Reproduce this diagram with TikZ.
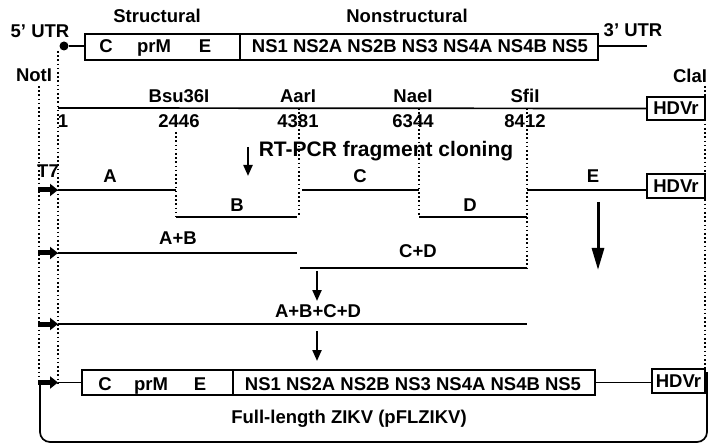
\documentclass[tikz,border=0pt]{standalone}
\usepackage{fontspec}
\setmainfont{Liberation Sans}
\usetikzlibrary{arrows.meta}
\begin{document}
\begin{tikzpicture}[x=1pt,y=-1pt,
  every node/.style={inner sep=0pt, outer sep=0pt},
  lbl/.style={anchor=base, font=\fontsize{18.5}{20}\selectfont\bfseries},
  biglbl/.style={anchor=base, font=\fontsize{21}{24}\selectfont\bfseries},
  gbox/.style={draw, line width=1.6pt, font=\fontsize{18.5}{20}\selectfont\bfseries},
  seq/.style={line width=1.7pt},
  dots/.style={line width=1.6pt, dash pattern=on 1.6pt off 2.6pt},
  t7/.style={line width=5pt, -{Triangle[length=8pt,width=12pt]}},
  darr/.style={line width=2.2pt, -{Triangle[length=11pt,width=9pt]}},
  bigarr/.style={line width=3pt, -{Triangle[length=22pt,width=12pt]}},
]
\useasboundingbox (0,0) rectangle (711,443);

% ---------- top genome ----------
\node[lbl] (tstruct) at (157,23) {Structural};
\node[lbl] (tnon) at (407,23) {Nonstructural};
\node[lbl] (utr5) at (40,38) {5' UTR};
\node[lbl] (utr3) at (633,37) {3' UTR};
\node[gbox, minimum width=155pt, minimum height=26pt] (s1) at (162.5,47) {};
\node[gbox, minimum width=358pt, minimum height=26pt] (n1) at (419,47) {};
\node[lbl] (s1c) at (106,53) {C};
\node[lbl] (s1p) at (154,53) {prM};
\node[lbl] (s1e) at (205,53) {E};
\node[lbl] (n1t) at (420,53) {NS1 NS2A NS2B NS3 NS4A NS4B NS5};
\node[circle, fill, minimum size=9pt] (dot) at (64,46) {};
\coordinate (u3) at (647,46);
\draw[seq] (dot) -- (s1.west |- dot);
\draw[seq] (n1.east |- u3) -- (u3);

% ---------- restriction map ----------
\node[lbl] (noti) at (34,82) {NotI};
\node[lbl] (clai) at (690,83) {ClaI};
\node[lbl] (bsu) at (179,103) {Bsu36I};
\node[lbl] (aar) at (298,103) {AarI};
\node[lbl] (nae) at (413,103) {NaeI};
\node[lbl] (sfi) at (525,103) {SfiI};
\node[lbl] (p1) at (63,128) {1};
\node[lbl] (p2) at (179,128) {2446};
\node[lbl] (p3) at (298,128) {4381};
\node[lbl] (p4) at (413,128) {6344};
\node[lbl] (p5) at (525,128) {8412};
\coordinate (g0) at (58,108);
\node[gbox, minimum width=58pt, minimum height=23pt] (h1) at (676,108.5) {HDVr};
\draw[seq] (g0) -- (h1.west);

% ---------- fragments ----------
\node[biglbl] (rtpcr) at (386,157) {RT-PCR fragment cloning};
\node[lbl] (t7) at (48,178) {T7};
\coordinate (a0) at (58,190);  \coordinate (a1) at (176,190);
\coordinate (b0) at (176,217); \coordinate (b1) at (297,217);
\coordinate (c0) at (302,190); \coordinate (c1) at (419,190);
\coordinate (d0) at (419,217); \coordinate (d1) at (527,217);
\coordinate (e0) at (527,190);
\node[gbox, minimum width=58pt, minimum height=24pt] (h2) at (676,186) {HDVr};
\draw[seq] (a0) -- (a1);
\draw[seq] (b0) -- (b1);
\draw[seq] (c0) -- (c1);
\draw[seq] (d0) -- (d1);
\draw[seq] (e0) -- (e0 -| h2.west);
\node[lbl] (la) at (110,183) {A};
\node[lbl] (lc) at (360,183) {C};
\node[lbl] (le) at (593,183) {E};
\node[lbl] (lb) at (237,212) {B};
\node[lbl] (ld) at (470,212) {D};

\coordinate (ab0) at (58,253);  \coordinate (ab1) at (297,253);
\coordinate (cd0) at (300,268); \coordinate (cd1) at (527,268);
\coordinate (f0) at (58,324);   \coordinate (f1) at (527,324);
\draw[seq] (ab0) -- (ab1);
\draw[seq] (cd0) -- (cd1);
\draw[seq] (f0) -- (f1);
\node[lbl] (lab) at (178,245) {A+B};
\node[lbl] (lcd) at (418,258) {C+D};
\node[lbl] (labcd) at (318,317) {A+B+C+D};

% ---------- final construct ----------
\node[gbox, minimum width=151pt, minimum height=25pt] (s2) at (157.5,382.5) {};
\node[gbox, minimum width=362pt, minimum height=25pt] (n2) at (414,382.5) {};
\node[lbl] (s2c) at (105,390) {C};
\node[lbl] (s2p) at (151,390) {prM};
\node[lbl] (s2e) at (200,390) {E};
\node[lbl] (n2t) at (413,390) {NS1 NS2A NS2B NS3 NS4A NS4B NS5};
\node[gbox, minimum width=53pt, minimum height=24pt] (h3) at (678.5,381) {HDVr};
\coordinate (g4) at (58,382.5);
\draw[seq] (g4) -- (s2.west);
\draw[seq] (n2.east) -- (n2.east -| h3.west);
\node[lbl] (full) at (349,423) {Full-length ZIKV (pFLZIKV)};

% ---------- dotted guides ----------
\coordinate (no0) at (39,86);   \coordinate (no1) at (39,376);
\coordinate (u50) at (58,51);   \coordinate (u51) at (58,383);
\coordinate (cl0) at (705,86);  \coordinate (cl1) at (705,374);
\coordinate (r1) at (176,132);
\coordinate (r2) at (299,108);  \coordinate (r2b) at (299,217);
\coordinate (r3) at (419,108);
\coordinate (r4) at (527,108);
\draw[dots] (no0) -- (no1);
\draw[dots] (u50) -- (u51);
\draw[dots] (cl0) -- (cl1);
\draw[dots] (r1) -- (b0);
\draw[dots] (r2) -- (r2b);
\draw[dots] (r3) -- (d0);
\draw[dots] (r4) -- (cd1);

% ---------- T7 arrows ----------
\coordinate (t1) at (38,190);
\coordinate (t2) at (38,253);
\coordinate (t3) at (38,324);
\coordinate (t4) at (38,382.5);
\draw[t7] (t1) -- (a0);
\draw[t7] (t2) -- (ab0);
\draw[t7] (t3) -- (f0);
\draw[t7] (t4) -- (g4);

% ---------- process arrows ----------
\coordinate (k1a) at (248,147); \coordinate (k1b) at (248,176);
\coordinate (k2a) at (317,271); \coordinate (k2b) at (317,301);
\coordinate (k3a) at (317,331); \coordinate (k3b) at (317,361);
\coordinate (k4a) at (598,202); \coordinate (k4b) at (598,270);
\draw[darr] (k1a) -- (k1b);
\draw[darr] (k2a) -- (k2b);
\draw[darr] (k3a) -- (k3b);
\draw[bigarr] (k4a) -- (k4b);

% ---------- plasmid bracket ----------
\coordinate (bl) at (40,380);
\coordinate (br) at (707,372);
\draw[seq, rounded corners=10pt] (bl) -- (40,442) -- (707,442) -- (br);
\end{tikzpicture}
\end{document}
